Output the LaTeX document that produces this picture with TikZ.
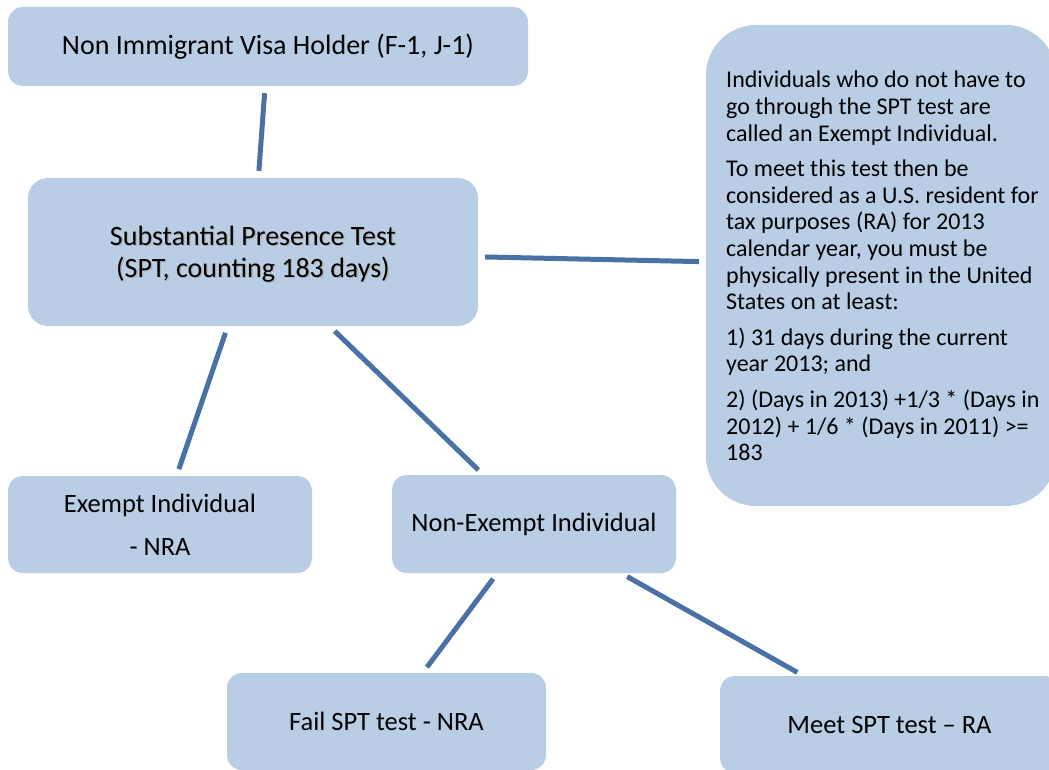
\documentclass[tikz,border=0pt]{standalone}
\usepackage{fontspec}
\setmainfont{Carlito}
\definecolor{boxfill}{HTML}{B9CDE5}
\definecolor{linkcol}{HTML}{4A71A6}
\begin{document}
\begin{tikzpicture}[x=1pt,y=-1pt,
  box/.style={rectangle, rounded corners=15pt, fill=boxfill, draw=none, inner sep=0pt, align=center},
  conn/.style={draw=linkcol, line width=5pt, shorten <=7pt, shorten >=7pt},
  txt/.style={inner sep=0pt, align=center, text=black}
  ]
\useasboundingbox[fill=white] (0,0) rectangle (1049,770);
\node[box, minimum width=520pt, minimum height=79pt, font=\fontsize{28}{32}\selectfont] (visa) at (268,46.5) {Non Immigrant Visa Holder (F-1, J-1)};
\node[box, rounded corners=20pt, minimum width=450pt, minimum height=148pt] (spt) at (253,252) {};
\node[txt, text=black!30, font=\fontsize{28}{32}\selectfont] (sptshadow) at (254.3,255.3) {Substantial Presence Test\\(SPT, counting 183 days)};
\node[txt, font=\fontsize{28}{32}\selectfont] (spttext) at (253,254) {Substantial Presence Test\\(SPT, counting 183 days)};
\node[box, rounded corners=50pt, minimum width=350pt, minimum height=481pt] (note) at (881,265.5) {};
\node[txt, align=left, anchor=north west, font=\fontsize{24}{26.6}\selectfont] (notetext) at (726,71) {Individuals who do not have to\\go through the SPT test are\\called an Exempt Individual.\\[9pt]To meet this test then be\\considered as a U.S. resident for\\tax purposes (RA) for 2013\\calendar year, you must be\\physically present in the United\\States on at least:\\[9pt]1) 31 days during the current\\year 2013; and\\[9pt]2) (Days in 2013) +1/3 * (Days in\\2012) + 1/6 * (Days in 2011) >=\\183};
\node[box, minimum width=304pt, minimum height=97pt, font=\fontsize{26.5}{32}\selectfont] (exempt) at (160,524.5) {Exempt Individual\\[11pt]- NRA};
\node[box, minimum width=284pt, minimum height=98pt, font=\fontsize{26.5}{32}\selectfont] (nonexempt) at (534,524) {Non-Exempt Individual};
\node[box, minimum width=319pt, minimum height=97pt, font=\fontsize{26.5}{32}\selectfont] (fail) at (386.5,721.5) {Fail SPT test - NRA};
\node[box, minimum width=339pt, minimum height=97pt, font=\fontsize{26.5}{32}\selectfont] (meet) at (889.5,724.5) {Meet SPT test -- RA};
\draw[conn] (visa) -- (spt);
\draw[conn] (spt) -- (note);
\draw[conn] (spt) -- (exempt);
\draw[conn] (spt) -- (nonexempt);
\draw[conn] (nonexempt) -- (fail);
\draw[conn] (nonexempt) -- (meet);
\end{tikzpicture}
\end{document}
